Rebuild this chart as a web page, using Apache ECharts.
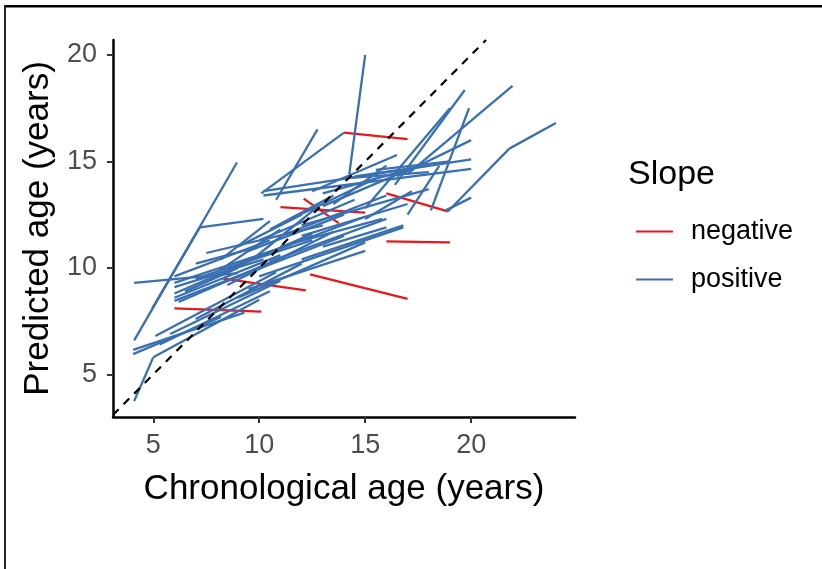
<!DOCTYPE html>
<html>
<head>
<meta charset="utf-8">
<script src="https://cdn.jsdelivr.net/npm/echarts@6/dist/echarts.min.js"></script>
<style>
  html, body { margin: 0; padding: 0; background: #fff; }
  #chart { width: 822px; height: 569px; }
</style>
</head>
<body>
<div id="chart"></div>
<script>
// tick labels
const xTicks = [5, 10, 15, 20];
const yTicks = [5, 10, 15, 20];

// identity (y = x) reference line ends
const identityLine = [3.1, 20.7];

// each segment: [age1, predicted1, age2, predicted2]
const negativeSegments = [
  [14.0, 16.35, 17.0, 16.05],
  [16.0, 13.5, 18.9, 12.65],
  [16.0, 11.25, 19.0, 11.2],
  [12.4, 9.7, 17.0, 8.55],
  [8.3, 9.5, 12.2, 8.95],
  [6.0, 8.1, 10.1, 7.95],
  [11.0, 12.85, 15.0, 12.6],
  [12.1, 13.25, 13.75, 12.1]
];

const positiveSegments = [
  [4.1, 3.75, 5.0, 5.8],
  [4.1, 6.6, 8.95, 14.95],
  [4.1, 9.3, 9.0, 9.75],
  [4.05, 6.15, 9.3, 7.9],
  [4.05, 5.95, 8.2, 7.7],
  [4.95, 8.1, 7.2, 11.9],
  [7.2, 11.9, 10.2, 12.3],
  [5.0, 5.8, 10.0, 8.5],
  [5.3, 6.4, 10.5, 8.9],
  [5.8, 6.9, 11.0, 9.4],
  [6.0, 8.6, 11.0, 10.6],
  [6.0, 9.1, 10.2, 10.4],
  [6.2, 8.4, 12.0, 10.9],
  [7.0, 9.5, 12.5, 11.3],
  [7.5, 10.7, 13.0, 12.0],
  [8.0, 9.2, 14.0, 11.5],
  [8.5, 10.0, 15.0, 12.4],
  [8.2, 10.4, 10.5, 12.2],
  [9.0, 8.6, 15.0, 11.2],
  [9.5, 9.0, 15.0, 10.8],
  [10.0, 9.6, 16.8, 11.9],
  [10.5, 10.3, 16.0, 12.3],
  [10.2, 13.6, 20.0, 15.1],
  [10.2, 13.4, 20.0, 14.65],
  [10.1, 13.5, 14.0, 16.35],
  [10.8, 13.2, 12.75, 16.5],
  [14.25, 14.4, 15.0, 20.0],
  [9.0, 11.0, 12.0, 12.5],
  [11.0, 11.5, 16.0, 13.4],
  [12.0, 12.0, 18.0, 13.7],
  [13.0, 12.9, 17.5, 14.8],
  [12.5, 13.6, 16.5, 15.3],
  [16.4, 13.9, 19.7, 18.35],
  [17.0, 14.4, 21.95, 18.55],
  [18.9, 12.65, 21.8, 15.6],
  [21.8, 15.6, 24.0, 16.8],
  [15.0, 12.8, 19.0, 17.5],
  [16.5, 14.3, 20.0, 16.0],
  [18.8, 12.7, 20.0, 13.3],
  [17.0, 12.5, 18.5, 14.8],
  [11.0, 11.0, 15.8, 12.3],
  [12.0, 11.5, 17.0, 13.0],
  [13.5, 13.0, 16.0, 14.8],
  [9.8, 10.5, 12.8, 12.9],
  [8.0, 9.8, 11.0, 11.8],
  [7.0, 10.2, 10.0, 11.0],
  [6.5, 8.9, 9.0, 10.0],
  [14.5, 14.3, 18.0, 14.8],
  [15.5, 14.6, 19.0, 15.0],
  [18.1, 12.7, 19.9, 17.5],
  [6.0, 9.6, 10.5, 11.3],
  [6.0, 9.3, 11.5, 11.1],
  [6.0, 8.45, 10.0, 10.0],
  [6.0, 8.8, 12.5, 11.6],
  [5.1, 6.8, 10.8, 9.8],
  [7.0, 7.6, 12.0, 10.2],
  [8.5, 9.2, 13.5, 11.7],
  [9.5, 10.8, 14.0, 12.5],
  [10.0, 11.3, 14.5, 13.2],
  [10.5, 11.8, 13.5, 13.4],
  [11.5, 12.3, 15.5, 14.2],
  [13.0, 13.5, 17.0, 14.6],
  [14.0, 14.2, 18.0, 14.5],
  [15.0, 12.3, 17.2, 13.6],
  [12.0, 10.4, 16.8, 12.0],
  [13.0, 11.0, 16.0, 11.9]
];

const NEG_COLOR = '#E41A1C';
const POS_COLOR = '#3A70B0';
const FONT = '"Liberation Sans", Arial, Helvetica, sans-serif';

const chart = echarts.init(document.getElementById('chart'));

// one line series per subject, sharing a name so the legend groups them
const segmentSeries = (segments, name, color) => segments.map(s => ({
  name: name,
  type: 'line',
  data: [[s[0], s[1]], [s[2], s[3]]],
  symbol: 'none',
  silent: true,
  lineStyle: { color: color, width: 2.3 },
  itemStyle: { color: color },
  z: 2
}));

const option = {
  animation: false,
  backgroundColor: '#fff',
  textStyle: { fontFamily: FONT },
  grid: { left: 113, right: 247, top: 40, bottom: 152 },
  xAxis: {
    type: 'value',
    min: 3.1,
    max: 24.9,
    name: 'Chronological age (years)',
    nameLocation: 'middle',
    nameGap: 55,
    nameTextStyle: { fontSize: 35, color: '#000', fontFamily: FONT },
    axisLine: { show: true, onZero: false, lineStyle: { color: '#000', width: 2.5 } },
    axisTick: { show: true, customValues: xTicks, length: 6, lineStyle: { color: '#333', width: 2 } },
    axisLabel: { customValues: xTicks, fontSize: 27, color: '#4D4D4D', margin: 15, fontFamily: FONT },
    splitLine: { show: false }
  },
  yAxis: {
    type: 'value',
    min: 3.0,
    max: 20.7,
    name: 'Predicted age (years)',
    nameLocation: 'middle',
    nameGap: 53,
    nameTextStyle: { fontSize: 35, color: '#000', fontFamily: FONT },
    axisLine: { show: true, onZero: false, lineStyle: { color: '#000', width: 2.5 } },
    axisTick: { show: true, customValues: yTicks, length: 6, lineStyle: { color: '#333', width: 2 } },
    axisLabel: { customValues: yTicks, fontSize: 27, color: '#4D4D4D', margin: 16, fontFamily: FONT },
    splitLine: { show: false }
  },
  legend: {
    data: ['negative', 'positive'],
    orient: 'vertical',
    left: 631,
    top: 213,
    icon: 'rect',
    itemWidth: 37,
    itemHeight: 2,
    itemGap: 21,
    selectedMode: false,
    textStyle: { fontSize: 27, color: '#000', fontFamily: FONT, padding: [0, 0, 0, 13] }
  },
  graphic: [
    { type: 'text', left: 628, top: 158, style: { text: 'Slope', fill: '#000', font: '34px ' + FONT } },
    { type: 'rect', shape: { x: 4, y: 5, width: 818, height: 2.5 }, style: { fill: '#000' } },
    { type: 'rect', shape: { x: 4, y: 5, width: 2, height: 564 }, style: { fill: '#222' } }
  ],
  series: [
    ...segmentSeries(negativeSegments, 'negative', NEG_COLOR),
    ...segmentSeries(positiveSegments, 'positive', POS_COLOR),
    {
      name: 'identity',
      type: 'line',
      data: identityLine.map(v => [v, v]),
      symbol: 'none',
      silent: true,
      lineStyle: { color: '#000', width: 2.2, type: [8, 7] },
      z: 3
    }
  ]
};

chart.setOption(option);
</script>
</body>
</html>
